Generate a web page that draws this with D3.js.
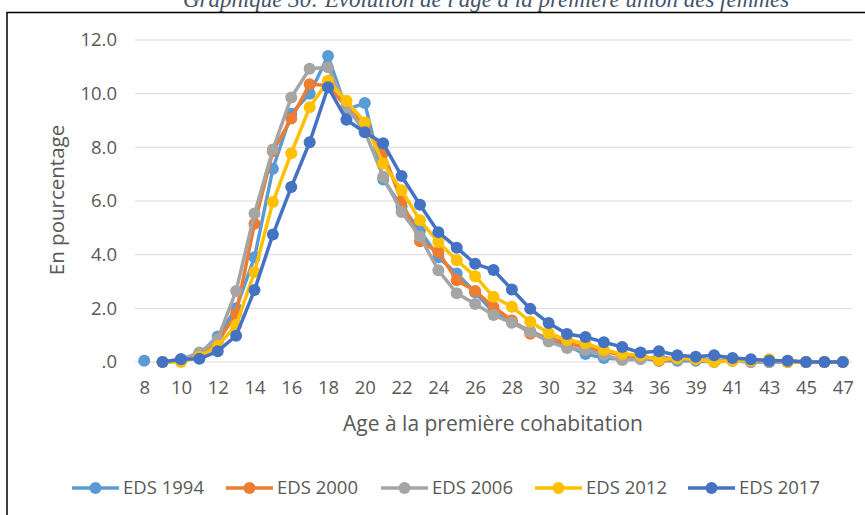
<!DOCTYPE html>
<html>
<head>
<meta charset="utf-8">
<script src="https://cdn.jsdelivr.net/npm/d3@7"></script>
<style>
  body { margin: 0; background: #fff; }
  svg { display: block; }
</style>
</head>
<body>
<svg id="chart" width="865" height="515"></svg>
<script>
// Age at first cohabitation (category axis; one age between 36 and 39 is unlabeled)
const ages = ["8","9","10","11","12","13","14","15","16","17","18","19","20","21","22","23","24","25","26","27","28","29","30","31","32","33","34","35","36","37","39","40","41","42","43","44","45","46","47"];

// Percent of women by age at first union, per survey
const eds1994 = [0.05,null,0.1,0.3,0.95,2.0,3.9,7.2,9.25,10.0,11.4,9.4,9.65,6.8,5.8,4.9,3.9,3.3,2.6,1.85,1.5,1.15,0.85,0.6,0.3,0.15,0.1,0.15,0.05,0.05,0.05,0.0,0.05,0.0,0.0,0.0,0.0,0.0,0.0];
const eds2000 = [null,0.0,0.05,0.3,0.75,1.8,5.15,7.85,9.07,10.35,10.3,9.5,8.8,7.8,6.0,4.5,4.1,3.05,2.65,2.05,1.55,1.05,0.9,0.7,0.55,0.4,0.25,0.2,0.05,0.1,0.1,0.05,0.1,0.05,0.0,0.05,0.0,0.0,0.0];
const eds2006 = [null,0.0,0.1,0.35,0.85,2.65,5.53,7.92,9.86,10.93,10.98,9.5,8.6,6.9,5.59,4.68,3.42,2.56,2.16,1.75,1.46,1.13,0.76,0.52,0.45,0.26,0.07,0.1,0.2,0.1,0.1,0.05,0.05,0.0,0.0,0.0,0.0,0.0,0.0];
const eds2012 = [null,0.0,0.0,0.2,0.6,1.37,3.35,5.96,7.78,9.49,10.48,9.74,8.93,7.4,6.4,5.28,4.47,3.79,3.2,2.43,2.06,1.5,1.08,0.82,0.7,0.45,0.3,0.25,0.07,0.15,0.1,0.0,0.05,0.05,0.1,0.0,0.0,0.0,0.0];
const eds2017 = [null,0.0,0.1,0.12,0.4,0.98,2.68,4.75,6.52,8.19,10.24,9.03,8.56,8.15,6.93,5.86,4.84,4.26,3.66,3.43,2.7,1.98,1.45,1.04,0.93,0.74,0.56,0.35,0.4,0.25,0.2,0.25,0.15,0.1,0.05,0.05,0.0,0.0,0.0];

const seriesNames = ["EDS 1994","EDS 2000","EDS 2006","EDS 2012","EDS 2017"];
const seriesValues = [eds1994, eds2000, eds2006, eds2012, eds2017];
const seriesColors = ["#5B9BD5","#ED7D31","#A5A5A5","#FFC000","#4472C4"];

const yTicks = [0, 2, 4, 6, 8, 10, 12];

const svg = d3.select("#chart");
const font = "'Open Sans', 'Noto Sans', sans-serif";
const textColor = "#595959";

// Caption (its upper part runs above the page edge)
svg.append("text")
  .attr("x", 486).attr("y", 7)
  .attr("text-anchor", "middle")
  .attr("font-family", "'Liberation Serif', 'DejaVu Serif', serif")
  .attr("font-style", "italic")
  .attr("font-size", 23)
  .attr("fill", "#44546A")
  .text("Graphique 30: Evolution de l'âge à la première union des femmes");

// Chart frame
svg.append("path")
  .attr("d", "M7,520 L7,12.5 L870,12.5")
  .attr("fill", "none")
  .attr("stroke", "#000")
  .attr("stroke-width", 1.5);

const plot = { left: 135, right: 852, top: 40, bottom: 362 };

const x = d3.scalePoint()
  .domain(ages)
  .range([plot.left, plot.right])
  .padding(0.5);

const y = d3.scaleLinear()
  .domain([0, 12])
  .range([plot.bottom, plot.top]);

// Horizontal gridlines
svg.append("g")
  .selectAll("line")
  .data(yTicks)
  .join("line")
  .attr("x1", plot.left).attr("x2", plot.right)
  .attr("y1", d => y(d)).attr("y2", d => y(d))
  .attr("stroke", "#D9D9D9")
  .attr("stroke-width", 1);

// Y axis labels
const yAxis = d3.axisLeft(y)
  .tickValues(yTicks)
  .tickSize(0)
  .tickPadding(0)
  .tickFormat(d => d === 0 ? ".0" : d.toFixed(1));
const gy = svg.append("g")
  .attr("transform", `translate(117,0)`)
  .call(yAxis);
gy.select(".domain").remove();
gy.selectAll("text")
  .attr("font-family", font)
  .attr("font-size", 18.5)
  .attr("fill", textColor);

// X axis labels (every other category)
const xAxis = d3.axisBottom(x)
  .tickValues(ages.filter((d, i) => i % 2 === 0))
  .tickSize(0)
  .tickPadding(0);
const gx = svg.append("g")
  .attr("transform", `translate(0,${plot.bottom + 19})`)
  .call(xAxis);
gx.select(".domain").remove();
gx.selectAll("text")
  .attr("font-family", font)
  .attr("font-size", 18.5)
  .attr("fill", textColor);

// Axis titles
svg.append("text")
  .attr("x", 493).attr("y", 431)
  .attr("text-anchor", "middle")
  .attr("font-family", font)
  .attr("font-size", 21)
  .attr("fill", textColor)
  .text("Age à la première cohabitation");

svg.append("text")
  .attr("transform", "translate(64,200) rotate(-90)")
  .attr("text-anchor", "middle")
  .attr("font-family", font)
  .attr("font-size", 20.5)
  .attr("fill", textColor)
  .text("En pourcentage");

// Lines and markers
const line = d3.line()
  .defined(d => d.v !== null)
  .x(d => x(d.age))
  .y(d => y(d.v));

seriesValues.forEach((vals, si) => {
  const pts = vals.map((v, i) => ({ age: ages[i], v }));
  const g = svg.append("g");
  g.append("path")
    .datum(pts)
    .attr("fill", "none")
    .attr("stroke", seriesColors[si])
    .attr("stroke-width", 3.5)
    .attr("stroke-linejoin", "round")
    .attr("d", line);
  g.selectAll("circle")
    .data(pts.filter(d => d.v !== null))
    .join("circle")
    .attr("cx", d => x(d.age))
    .attr("cy", d => y(d.v))
    .attr("r", 6)
    .attr("fill", seriesColors[si]);
});

// Legend
const legendX = [72, 226, 381, 535, 688];
const legendY = 488;
const lg = svg.append("g");
seriesNames.forEach((name, i) => {
  const g = lg.append("g").attr("transform", `translate(${legendX[i]},${legendY})`);
  g.append("line")
    .attr("x1", 0).attr("x2", 47)
    .attr("stroke", seriesColors[i])
    .attr("stroke-width", 3.5);
  g.append("circle")
    .attr("cx", 23.5).attr("cy", 0).attr("r", 6)
    .attr("fill", seriesColors[i]);
  g.append("text")
    .attr("x", 51).attr("y", 0)
    .attr("dy", "0.35em")
    .attr("font-family", font)
    .attr("font-size", 18.5)
    .attr("fill", textColor)
    .text(name);
});
</script>
</body>
</html>
